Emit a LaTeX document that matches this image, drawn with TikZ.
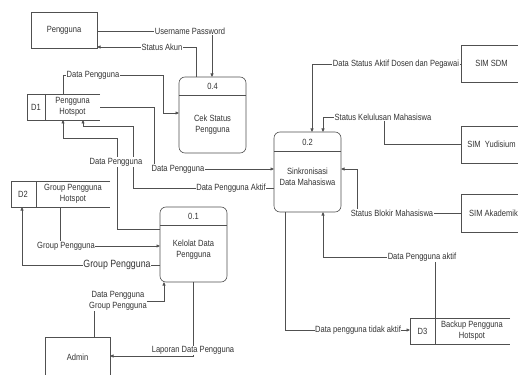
\documentclass[tikz,border=0pt]{standalone}
\usepackage{fontspec}
\setmainfont{Liberation Sans}[FakeStretch=0.84]
\usetikzlibrary{arrows.meta}
\definecolor{ln}{HTML}{505050}
\definecolor{tx}{HTML}{333333}
\tikzset{
  base/.style={inner sep=0pt,outer sep=0pt,line width=0.6pt,draw=ln},
  entity/.style={base,rectangle},
  proc/.style={base,rectangle,rounded corners=6pt},
  store/.style={rectangle,inner sep=0pt,outer sep=0pt},
  txt/.style={text=tx,font=\fontsize{9}{11}\selectfont,align=center,inner sep=0pt},
  lbl/.style={txt,fill=white,inner sep=0.6pt},
  biglbl/.style={lbl,font=\fontsize{10.5}{12}\selectfont},
  flow/.style={draw=ln,line width=0.6pt,-{Triangle[length=3.5pt,width=3pt]}},
  edge/.style={draw=ln,line width=0.6pt}
}
\begin{document}
\begin{tikzpicture}[x=1pt,y=-1pt]
\useasboundingbox (0,0) rectangle (518,374);
\begin{scope}
\clip (0,0) rectangle (518,374);
% entities
\node[entity,minimum width=66pt,minimum height=36pt] (peng) at (64,30) {};
\node[txt] (pengt) at (64,30) {Pengguna};
\node[entity,minimum width=65pt,minimum height=40pt] (admin) at (77.5,357) {};
\node[txt] (admint) at (77.5,357) {Admin};
\node[entity,minimum width=61pt,minimum height=37pt] (simsdm) at (491.5,63.5) {};
\node[txt] (simsdmt) at (491.5,63.5) {SIM SDM};
\node[entity,minimum width=61pt,minimum height=37pt] (simyud) at (491.5,144.5) {};
\node[txt] (simyudt) at (491.5,144.5) {SIM\ \ Yudisium};
\node[entity,minimum width=61pt,minimum height=38pt] (simak) at (491.5,213) {};
\node[txt] (simakt) at (493.5,213) {SIM Akademik};
\end{scope}
% processes
\node[proc,minimum width=67pt,minimum height=76pt] (p04) at (212.5,115) {};
\draw[edge] (p04.west |- 0,95) -- (p04.east |- 0,95);
\node[txt] (p04id) at (212.5,86) {0.4};
\node[txt] (p04t) at (212.5,125) {Cek Status\\Pengguna};
\node[proc,minimum width=67pt,minimum height=80pt] (p02) at (307.5,172) {};
\draw[edge] (p02.west |- 0,151) -- (p02.east |- 0,151);
\node[txt] (p02id) at (307.5,142) {0.2};
\node[txt] (p02t) at (307.5,177) {Sinkronisasi\\Data Mahasiswa};
\node[proc,minimum width=67pt,minimum height=75pt] (p01) at (193.5,244.5) {};
\draw[edge] (p01.west |- 0,225) -- (p01.east |- 0,225);
\node[txt] (p01id) at (193.5,216) {0.1};
\node[txt] (p01t) at (193.5,250) {Kelolat Data\\Pengguna};
% stores
\node[store,minimum width=73pt,minimum height=26pt] (d1) at (63.5,107) {};
\draw[edge] (d1.north east) -- (d1.north west) -- (d1.south west) -- (d1.south east);
\draw[edge] (45,0 |- d1.north) -- (45,0 |- d1.south);
\node[txt] (d1id) at (36,107) {D1};
\node[txt] (d1t) at (72.5,107) {Pengguna\\Hotspot};
\node[store,minimum width=99pt,minimum height=26pt] (d2) at (60.5,194) {};
\draw[edge] (d2.north east) -- (d2.north west) -- (d2.south west) -- (d2.south east);
\draw[edge] (36,0 |- d2.north) -- (36,0 |- d2.south);
\node[txt] (d2id) at (23,194) {D2};
\node[txt] (d2t) at (73,194) {Group Pengguna\\Hotspot};
\node[store,minimum width=100pt,minimum height=26pt] (d3) at (460,331) {};
\draw[edge] (d3.north east) -- (d3.north west) -- (d3.south west) -- (d3.south east);
\draw[edge] (435,0 |- d3.north) -- (435,0 |- d3.south);
\node[txt] (d3id) at (422.5,331) {D3};
\node[txt] (d3t) at (472,331) {Backup Pengguna\\Hotspot};
% flows
\draw[flow] (peng.east |- 0,31) -- (212,31) -- (212,0 |- p04.north);
\node[lbl] (l1) at (190,31) {Username Password};
\draw[flow] (196,0 |- p04.north) -- (196,47) -- (peng.east |- 0,47);
\node[lbl] (l2) at (162,47) {Status Akun};
\draw[flow] (63,0 |- d1.north) -- (63,75) -- (163,75) -- (163,113) -- (p04.west |- 0,113);
\node[lbl] (l3) at (93,75) {Data Pengguna};
\draw[flow] (d1.east |- 0,107) -- (154,107) -- (154,169) -- (p02.west |- 0,169);
\node[lbl] (l4) at (178,169) {Data Pengguna};
\draw[flow] (p02.west |- 0,188) -- (133,188) -- (133,126) -- (83,126) -- (83,0 |- d1.south);
\node[lbl] (l5) at (231,188) {Data Pengguna Aktif};
\draw[flow] (p01.west |- 0,229) -- (117,229) -- (117,138) -- (63,138) -- (63,0 |- d1.south);
\node[lbl] (l6) at (116,162) {Data Pengguna};
\draw[flow] (60,0 |- d2.south) -- (60,246) -- (p01.west |- 0,246);
\node[lbl] (l7) at (66,246) {Group Pengguna};
\draw[flow] (p01.west |- 0,265) -- (22,265) -- (22,0 |- d2.south);
\node[biglbl] (l8) at (117,265) {Group Pengguna};
\draw[flow] (94,0 |- admin.north) -- (94,301) -- (164,301) -- (164,0 |- p01.south);
\node[lbl] (l9) at (118,301) {Data Pengguna\\Group Pengguna};
\draw[flow] (193,0 |- p01.south) -- (193,356) -- (admin.east |- 0,356);
\node[lbl] (l10) at (193,350.5) {Laporan Data Pengguna};
\draw[flow] (simsdm.west |- 0,64) -- (312,64) -- (312,0 |- p02.north);
\node[lbl] (l11) at (396,64) {Data Status Aktif Dosen dan Pegawai};
\draw[flow] (simyud.west |- 0,144) -- (384,144) -- (384,117) -- (323,117) -- (323,0 |- p02.north);
\node[lbl] (l12) at (383,117) {Status Kelulusan Mahasiswa};
\draw[flow] (simak.west |- 0,213) -- (357,213) -- (357,169) -- (p02.east |- 0,169);
\node[lbl] (l13) at (392,213) {Status Blokir Mahasiswa};
\draw[flow] (435,0 |- d3.north) -- (435,257) -- (323,257) -- (323,0 |- p02.south);
\node[lbl] (l14) at (422,257) {Data Pengguna aktif};
\draw[flow] (285,0 |- p02.south) -- (285,330) -- (d3.west |- 0,330);
\node[lbl] (l15) at (358,330) {Data pengguna tidak aktif};
\end{tikzpicture}
\end{document}
